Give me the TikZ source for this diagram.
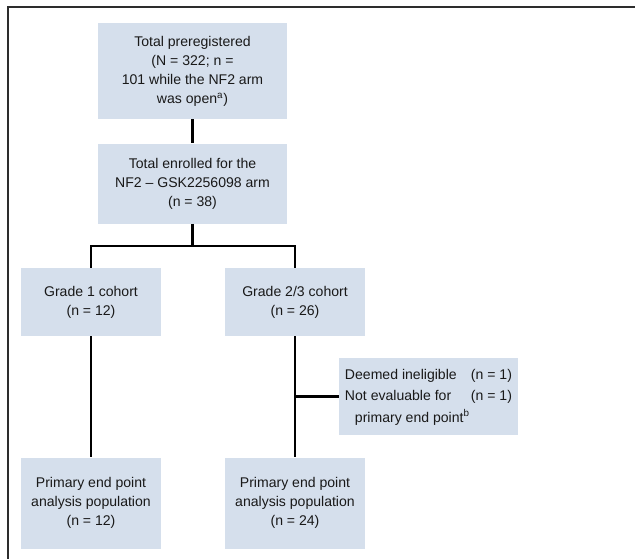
\documentclass[tikz,border=0pt]{standalone}
\usepackage{fontspec}
\setmainfont{Liberation Sans}
\usepackage{tikz}
\usepackage{xcolor}
\usetikzlibrary{positioning}
\definecolor{flowblue}{RGB}{213, 223, 236}
\definecolor{framegray}{RGB}{45, 45, 45}
\tikzstyle{flowbox} = [rectangle, minimum width=4.725cm, minimum height=2cm, inner sep=0pt, text centered, align=center, fill=flowblue, text=black!90, font=\fontsize{10}{13.5}\selectfont]
\tikzstyle{cohortbox} = [flowbox, minimum width=3.5cm, minimum height=1.7cm]
\tikzstyle{connector} = [line width=1.8pt, black]

\begin{document}
\begin{tikzpicture}
        \useasboundingbox (0,0) rectangle (15.875,-13.975);
        % Frame
        \draw[framegray, line width=1.4pt] (15.875,-0.175) -- (0.2,-0.175) -- (0.2,-13.975);

        % Main components
        \node[flowbox, minimum height=2.4cm] (prereg) at (4.8125,-1.775) {Total preregistered\\(N = 322; n =\\101 while the NF2 arm\\was open\textsuperscript{a})};
        \node[flowbox, below=0.6cm of prereg] (enrolled) {Total enrolled for the\\NF2 -- GSK2256098 arm\\(n = 38)};

        % Cohorts
        \node[cohortbox] (grade1) at (2.275,-7.55) {Grade 1 cohort\\(n = 12)};
        \node[cohortbox] (grade23) at (7.375,-7.55) {Grade 2/3 cohort\\(n = 26)};
        \node[cohortbox, minimum height=2.275cm, below=3.025cm of grade1] (primary1) {Primary end point\\analysis population\\(n = 12)};
        \node[cohortbox, minimum height=2.275cm, below=3.025cm of grade23] (primary23) {Primary end point\\analysis population\\(n = 24)};

        % Exclusions
        \node[flowbox, minimum width=4.475cm, minimum height=1.925cm] (excluded) at (10.7125,-9.9125) {\renewcommand{\arraystretch}{1.12}\begin{tabular}{@{}p{3.15cm}@{}l@{}}
            Deemed ineligible & (n = 1)\\
            Not evaluable for & (n = 1)\\
            \multicolumn{2}{@{}l@{}}{\hspace{0.25cm}primary end point\textsuperscript{b}}
        \end{tabular}};

        % Connections
        \coordinate (split) at (4.8125,-6.15);
        \coordinate (exclmeet) at (excluded.west -| grade23);
        \draw[connector] (prereg) -- (enrolled);
        \draw[connector] (enrolled) -- (split);
        \draw[connector] (grade1) |- (split) -| (grade23);
        \draw[connector] (grade1) -- (primary1);
        \draw[connector] (grade23) -- (primary23);
        \draw[connector] (excluded) -- (exclmeet);
    \end{tikzpicture}
\end{document}
